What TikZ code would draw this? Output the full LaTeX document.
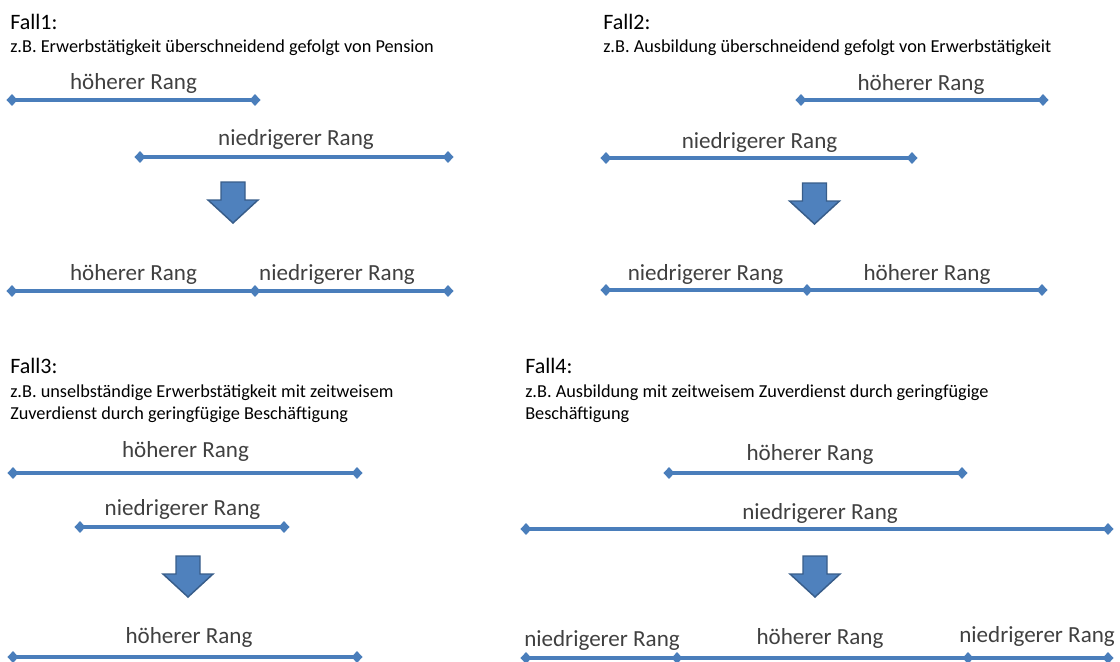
\documentclass[tikz,border=0pt]{standalone}
\usepackage{fontspec}
\setmainfont{Carlito}
\usetikzlibrary{shapes.geometric}
\definecolor{lineblue}{HTML}{4A7EBB}
\definecolor{arrowfill}{HTML}{4F81BD}
\definecolor{arrowdraw}{HTML}{385D8A}
\definecolor{labelgray}{HTML}{404040}
\newcommand\blkarrow[2]{%
  \draw[blockarrow] (#1-12,#2) -- (#1+12,#2) -- (#1+12,#2+18) -- (#1+25,#2+18)
    -- (#1,#2+41) -- (#1-25,#2+18) -- (#1-12,#2+18) -- cycle;}
\begin{document}
\begin{tikzpicture}[x=0.75pt,y=-0.75pt,
  dia/.style={diamond, fill=lineblue, draw=none, inner sep=0pt, minimum width=8.5pt, minimum height=9pt},
  seg/.style={draw=lineblue, line width=2.5pt},
  lab/.style={anchor=base, text=labelgray, font=\fontsize{17.3}{20}\selectfont, inner sep=0pt},
  falltitle/.style={anchor=base west, font=\fontsize{16.5}{20}\selectfont, inner sep=0pt},
  subtext/.style={anchor=base west, font=\fontsize{13.7}{16.5}\selectfont, inner sep=0pt, align=left},
  blockarrow/.style={fill=arrowfill, draw=arrowdraw, line width=1.1pt, line join=miter}
]
\useasboundingbox (0,0) rectangle (1120,661);

% ---------- Fall 1 ----------
\node[falltitle] (t1) at (10,29) {Fall1:};
\node[subtext] (s1) at (10,52) {z.B. Erwerbstätigkeit überschneidend gefolgt von Pension};
\node[dia] (f1a) at (12,100) {};
\node[dia] (f1b) at (255,100) {};
\draw[seg] (f1a.center) -- (f1b.center);
\node[lab] (l1a) at (133.5,89) {höherer Rang};
\node[dia] (f1c) at (140,157) {};
\node[dia] (f1d) at (448,157) {};
\draw[seg] (f1c.center) -- (f1d.center);
\node[lab] (l1b) at (296,145) {niedrigerer Rang};
\blkarrow{233}{182}
\node[dia] (f1e) at (12,291) {};
\node[dia] (f1f) at (255,291) {};
\node[dia] (f1g) at (448,291) {};
\draw[seg] (f1e.center) -- (f1f.center) -- (f1g.center);
\node[lab] (l1c) at (133.5,280) {höherer Rang};
\node[lab] (l1d) at (337,280) {niedrigerer Rang};

% ---------- Fall 2 ----------
\node[falltitle] (t2) at (603,29) {Fall2:};
\node[subtext] (s2) at (603,52) {z.B. Ausbildung überschneidend gefolgt von Erwerbstätigkeit};
\node[dia] (f2a) at (801,100) {};
\node[dia] (f2b) at (1043,100) {};
\draw[seg] (f2a.center) -- (f2b.center);
\node[lab] (l2a) at (921,90) {höherer Rang};
\node[dia] (f2c) at (606,158) {};
\node[dia] (f2d) at (912,158) {};
\draw[seg] (f2c.center) -- (f2d.center);
\node[lab] (l2b) at (759.5,148) {niedrigerer Rang};
\blkarrow{814.5}{183}
\node[dia] (f2e) at (606,290) {};
\node[dia] (f2f) at (807,290) {};
\node[dia] (f2g) at (1042,290) {};
\draw[seg] (f2e.center) -- (f2f.center) -- (f2g.center);
\node[lab] (l2c) at (705.5,280) {niedrigerer Rang};
\node[lab] (l2d) at (927,280) {höherer Rang};

% ---------- Fall 3 ----------
\node[falltitle] (t3) at (10,373) {Fall3:};
\node[subtext] (s3) at (10,419) {z.B. unselbständige Erwerbstätigkeit mit zeitweisem\\Zuverdienst durch geringfügige Beschäftigung};
\node[dia] (f3a) at (13,473) {};
\node[dia] (f3b) at (357,473) {};
\draw[seg] (f3a.center) -- (f3b.center);
\node[lab] (l3a) at (185.5,457) {höherer Rang};
\node[dia] (f3c) at (80,527) {};
\node[dia] (f3d) at (284,527) {};
\draw[seg] (f3c.center) -- (f3d.center);
\node[lab] (l3b) at (182.5,515) {niedrigerer Rang};
\blkarrow{188}{556}
\node[dia] (f3e) at (13,657) {};
\node[dia] (f3f) at (357,657) {};
\draw[seg] (f3e.center) -- (f3f.center);
\node[lab] (l3c) at (189,643) {höherer Rang};

% ---------- Fall 4 ----------
\node[falltitle] (t4) at (525,373) {Fall4:};
\node[subtext] (s4) at (525,419) {z.B. Ausbildung mit zeitweisem Zuverdienst durch geringfügige\\Beschäftigung};
\node[dia] (f4a) at (669,473) {};
\node[dia] (f4b) at (962,473) {};
\draw[seg] (f4a.center) -- (f4b.center);
\node[lab] (l4a) at (810,460) {höherer Rang};
\node[dia] (f4c) at (526,529) {};
\node[dia] (f4d) at (1108,529) {};
\draw[seg] (f4c.center) -- (f4d.center);
\node[lab] (l4b) at (820,519) {niedrigerer Rang};
\blkarrow{815}{556}
\node[dia] (f4e) at (526,658) {};
\node[dia] (f4f) at (677,658) {};
\node[dia] (f4g) at (968,658) {};
\node[dia] (f4h) at (1108,658) {};
\draw[seg] (f4e.center) -- (f4f.center) -- (f4g.center) -- (f4h.center);
\node[lab] (l4c) at (602,646) {niedrigerer Rang};
\node[lab] (l4d) at (820,644) {höherer Rang};
\node[lab] (l4e) at (1037,642) {niedrigerer Rang};
\end{tikzpicture}
\end{document}
